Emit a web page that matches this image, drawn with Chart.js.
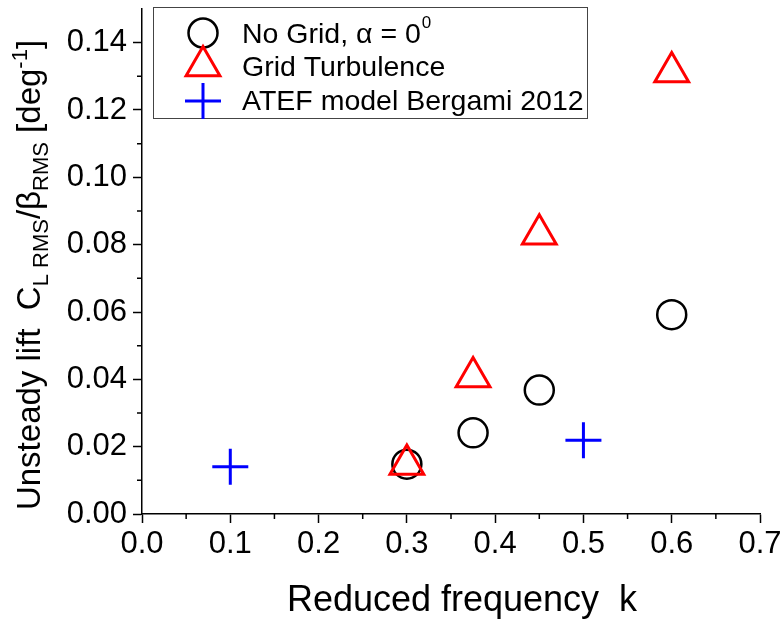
<!DOCTYPE html>
<html>
<head>
<meta charset="utf-8">
<script src="https://cdn.jsdelivr.net/npm/chart.js@4.4.1/dist/chart.umd.min.js"></script>
<style>
  html, body { margin: 0; padding: 0; background: #fff; }
  #wrap { width: 784px; height: 622px; position: relative; }
</style>
</head>
<body>
<div id="wrap"><canvas id="lift" width="784" height="622"></canvas></div>
<script>
const FONT = "'Liberation Sans', Arial, sans-serif";

// measured unsteady lift vs reduced frequency k
const kNoGrid = [0.3, 0.375, 0.45, 0.6];
const liftNoGrid = [0.0148, 0.0241, 0.0368, 0.0592];
const kGrid = [0.3, 0.375, 0.45, 0.6];
const liftGrid = [0.0147, 0.0407, 0.0831, 0.1313];
const kAtef = [0.1, 0.5];
const liftAtef = [0.0140, 0.0219];

const seriesNames = ['No Grid, \u03b1 = 0', 'Grid Turbulence', 'ATEF model Bergami 2012'];

const xTicks = [0, 0.1, 0.2, 0.3, 0.4, 0.5, 0.6, 0.7];
const xMinor = [0.05, 0.15, 0.25, 0.35, 0.45, 0.55, 0.65];
const yTicks = [0, 0.02, 0.04, 0.06, 0.08, 0.10, 0.12, 0.14];
const yMinor = [0.01, 0.03, 0.05, 0.07, 0.09, 0.11, 0.13];

const toPoints = (xs, ys) => xs.map((x, i) => ({ x, y: ys[i] }));

// draws a run of text pieces (normal / sub / super) centred on x
function richText(ctx, parts, x, y) {
  let total = 0;
  parts.forEach(p => {
    ctx.font = p.size + 'px ' + FONT;
    p.w = ctx.measureText(p.t).width;
    total += p.w;
  });
  let cx = x - total / 2;
  parts.forEach(p => {
    ctx.font = p.size + 'px ' + FONT;
    ctx.fillText(p.t, cx, y + (p.dy || 0));
    cx += p.w;
  });
}

const minorTicks = {
  id: 'minorTicks',
  afterDraw(chart) {
    const { ctx, scales: { x, y } } = chart;
    ctx.save();
    ctx.strokeStyle = '#000';
    ctx.lineWidth = 1.5;
    ctx.beginPath();
    xMinor.forEach(v => {
      const px = x.getPixelForValue(v);
      ctx.moveTo(px, x.top);
      ctx.lineTo(px, x.top + 5);
    });
    yMinor.forEach(v => {
      const py = y.getPixelForValue(v);
      ctx.moveTo(y.right, py);
      ctx.lineTo(y.right - 5, py);
    });
    ctx.stroke();
    ctx.restore();
  }
};

const axisTitles = {
  id: 'axisTitles',
  afterDraw(chart) {
    const { ctx } = chart;
    ctx.save();
    ctx.fillStyle = '#000';
    ctx.textBaseline = 'alphabetic';
    ctx.textAlign = 'left';
    richText(ctx, [{ t: 'Reduced frequency  k', size: 36 }], 462, 611);

    ctx.translate(40, 275);
    ctx.rotate(-Math.PI / 2);
    richText(ctx, [
      { t: 'Unsteady lift  C', size: 33 },
      { t: 'L RMS', size: 22, dy: 8 },
      { t: '/\u03b2', size: 33 },
      { t: 'RMS', size: 22, dy: 8 },
      { t: ' [deg', size: 33 },
      { t: '-1', size: 22, dy: -13 },
      { t: ']', size: 33 }
    ], 0, 0);
    ctx.restore();
  }
};

const boxLegend = {
  id: 'boxLegend',
  afterDraw(chart) {
    const { ctx } = chart;
    ctx.save();
    ctx.strokeStyle = '#444';
    ctx.lineWidth = 1;
    ctx.strokeRect(153.5, 7.5, 434, 111);

    const rows = [33, 66, 101];
    chart.data.datasets.forEach((ds, i) => {
      ctx.strokeStyle = ds.borderColor;
      ctx.fillStyle = 'rgba(0,0,0,0)';
      ctx.lineWidth = ds.borderWidth;
      Chart.helpers.drawPoint(ctx, { pointStyle: ds.pointStyle, radius: ds.pointRadius, rotation: 0, borderWidth: ds.borderWidth }, 203, rows[i]);
    });

    ctx.fillStyle = '#000';
    ctx.textAlign = 'left';
    ctx.textBaseline = 'alphabetic';
    ctx.font = '28.5px ' + FONT;
    ctx.fillText(seriesNames[0], 242, 43);
    const w = ctx.measureText(seriesNames[0]).width;
    ctx.font = '17px ' + FONT;
    ctx.fillText('0', 242 + w + 1, 28);
    ctx.font = '28.5px ' + FONT;
    ctx.fillText(seriesNames[1], 242, 76);
    ctx.fillText(seriesNames[2], 242, 110);
    ctx.restore();
  }
};

const axisStyle = (fmt, list, pad) => ({
  type: 'linear',
  afterBuildTicks: s => { s.ticks = list.map(v => ({ value: v })); },
  ticks: {
    color: '#000',
    font: { family: FONT, size: 31 },
    padding: pad,
    autoSkip: false,
    maxRotation: 0,
    callback: v => v.toFixed(fmt)
  },
  grid: {
    display: true,
    drawOnChartArea: false,
    drawTicks: true,
    tickLength: 9,
    tickColor: '#000',
    tickWidth: 1.5
  },
  border: { display: true, color: '#000', width: 1.5 }
});

// fixed axis boxes so the plot area sits at 142..760 x 9..514
const xAxis = Object.assign(axisStyle(1, xTicks, 3), {
  min: 0, max: 0.7,
  afterFit: s => { s.height = 108; s.paddingLeft = 0; s.paddingRight = 0; }
});
const yAxis = Object.assign(axisStyle(2, yTicks, 6), {
  min: 0, max: 0.15,
  afterFit: s => { s.width = 142; s.paddingTop = 0; s.paddingBottom = 0; }
});

new Chart(document.getElementById('lift'), {
  type: 'scatter',
  data: {
    datasets: [
      {
        label: seriesNames[0],
        data: toPoints(kNoGrid, liftNoGrid),
        pointStyle: 'circle',
        pointRadius: 14.5,
        borderWidth: 2.5,
        borderColor: '#000000',
        backgroundColor: 'rgba(0,0,0,0)',
        order: 2
      },
      {
        label: seriesNames[1],
        data: toPoints(kGrid, liftGrid),
        pointStyle: 'triangle',
        pointRadius: 19.5,
        borderWidth: 3,
        borderColor: '#ff0000',
        backgroundColor: 'rgba(0,0,0,0)',
        order: 1
      },
      {
        label: seriesNames[2],
        data: toPoints(kAtef, liftAtef),
        pointStyle: 'cross',
        pointRadius: 18,
        borderWidth: 3,
        borderColor: '#0000ff',
        backgroundColor: 'rgba(0,0,0,0)',
        order: 3
      }
    ]
  },
  options: {
    responsive: false,
    animation: false,
    layout: { autoPadding: false, padding: { left: 0, right: 24, top: 9, bottom: 0 } },
    plugins: { legend: { display: false }, tooltip: { enabled: false } },
    scales: { x: xAxis, y: yAxis }
  },
  plugins: [minorTicks, axisTitles, boxLegend]
});
</script>
</body>
</html>
